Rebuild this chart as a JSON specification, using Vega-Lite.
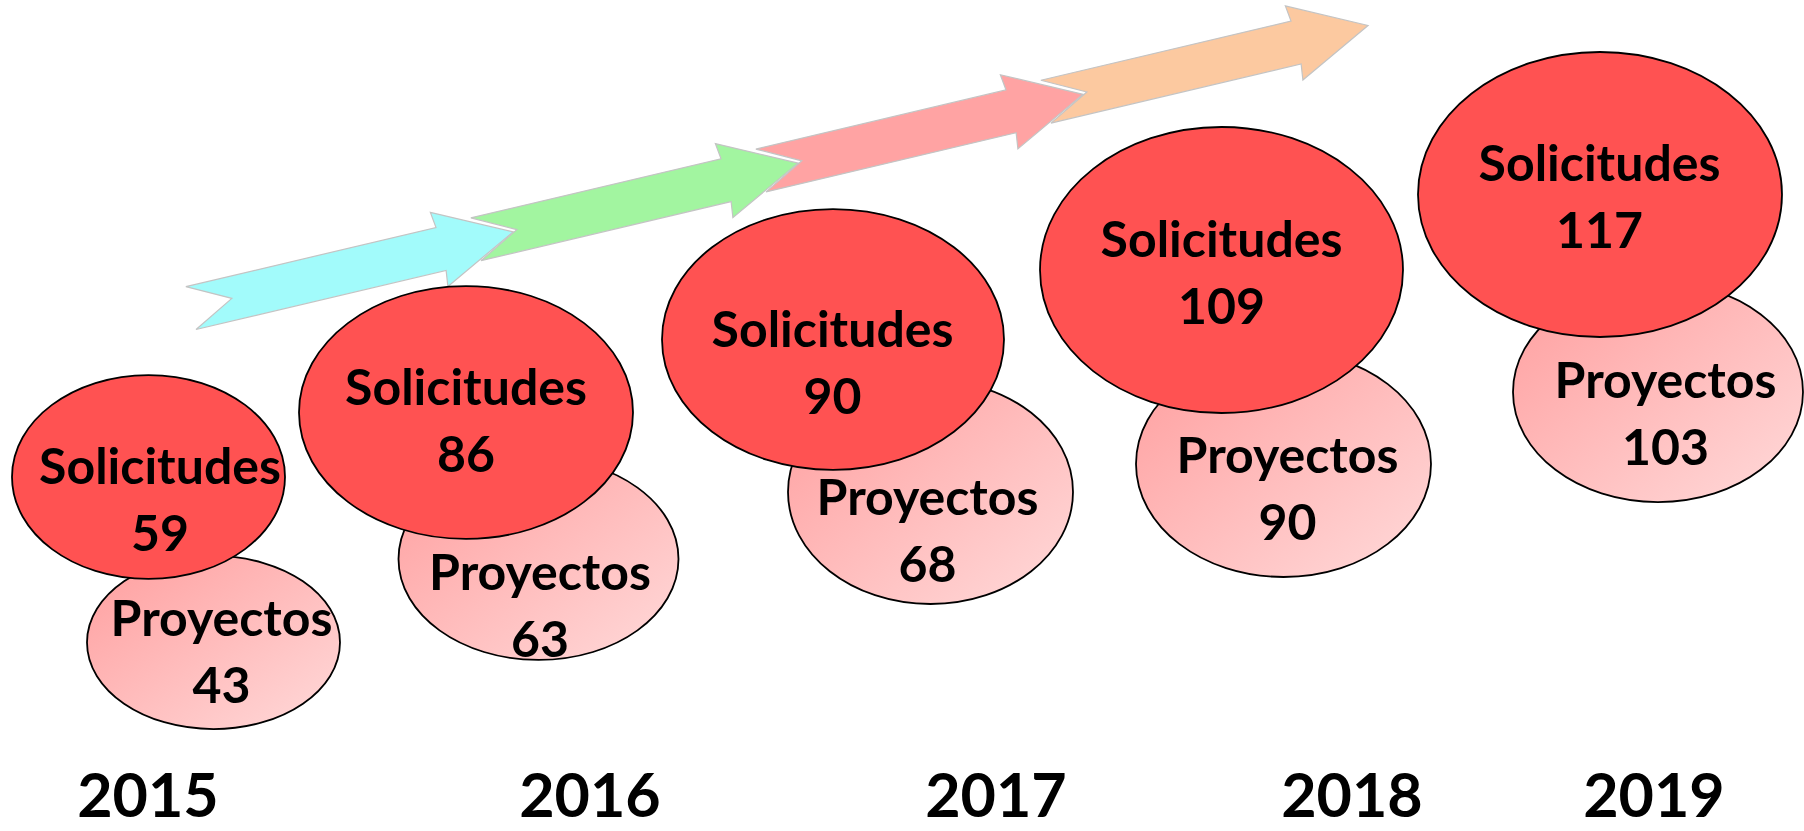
{
  "$schema": "https://vega.github.io/schema/vega-lite/v6.json",
  "width": 1804,
  "height": 831,
  "padding": 0,
  "autosize": "none",
  "background": "white",
  "config": {"view": {"stroke": null}},
  "datasets": {
    "counts": [
      {"year": 2015, "serie": "Solicitudes", "value": 59},
      {"year": 2016, "serie": "Solicitudes", "value": 86},
      {"year": 2017, "serie": "Solicitudes", "value": 90},
      {"year": 2018, "serie": "Solicitudes", "value": 109},
      {"year": 2019, "serie": "Solicitudes", "value": 117},
      {"year": 2015, "serie": "Proyectos", "value": 43},
      {"year": 2016, "serie": "Proyectos", "value": 63},
      {"year": 2017, "serie": "Proyectos", "value": 68},
      {"year": 2018, "serie": "Proyectos", "value": 90},
      {"year": 2019, "serie": "Proyectos", "value": 103}
    ],
    "arrows": [
      {"step": 1, "from": 2015, "to": 2016},
      {"step": 2, "from": 2016, "to": 2017},
      {"step": 3, "from": 2017, "to": 2018},
      {"step": 4, "from": 2018, "to": 2019}
    ]
  },
  "layer": [
    {
      "data": {"name": "arrows"},
      "mark": {
        "type": "point",
        "filled": true,
        "opacity": 1,
        "shape": "M-1,-0.133L0.553,-0.133L0.541,-0.23L1,0L0.541,0.23L0.553,0.133L-1,0.133L-0.746,0Z",
        "size": 109561,
        "angle": -13.3,
        "stroke": "#C4C4C4",
        "strokeWidth": 1.2
      },
      "encoding": {
        "x": {"field": "step", "type": "quantitative", "axis": null, "scale": {"domain": [1, 4], "range": [352, 1207], "zero": false, "nice": false}},
        "y": {"field": "step", "type": "quantitative", "axis": null, "scale": {"domain": [1, 4], "range": [270, 63.6], "zero": false, "nice": false}},
        "color": {"field": "step", "type": "nominal", "legend": null, "scale": {"domain": [1, 2, 3, 4], "range": ["#A2FBFB", "#A2F5A0", "#FFA3A3", "#FCC9A0"]}},
        "order": {"field": "step", "type": "quantitative", "sort": "descending"}
      }
    },
    {
      "data": {"name": "counts"},
      "transform": [{"filter": "datum.serie === 'Proyectos'"}],
      "mark": {
        "type": "point",
        "filled": true,
        "opacity": 1,
        "fill": {"gradient": "linear", "x1": 0, "y1": 0, "x2": 1, "y2": 1, "stops": [{"offset": 0, "color": "#FF9E9E"}, {"offset": 1, "color": "#FFDADA"}]},
        "stroke": "black",
        "strokeWidth": 1.8
      },
      "encoding": {
        "x": {"field": "year", "type": "quantitative", "axis": null, "scale": {"domain": [2015, 2016, 2017, 2018, 2019], "range": [213.5, 538.5, 930.5, 1283.5, 1658], "zero": false, "nice": false}},
        "y": {"field": "value", "type": "quantitative", "axis": null, "scale": {"domain": [43, 63, 68, 90, 103], "range": [642.5, 559, 492, 464, 392], "zero": false, "nice": false}},
        "size": {"field": "value", "type": "quantitative", "legend": null, "scale": {"domain": [43, 63, 68, 90, 103], "range": [64009, 78400, 81225, 87025, 84100], "zero": false, "nice": false}},
        "shape": {"field": "year", "type": "nominal", "legend": null, "scale": {"domain": [2015, 2016, 2017, 2018, 2019], "range": [
          "M-1,0C-1,-0.3778,-0.5523,-0.684,0,-0.684C0.5523,-0.684,1,-0.3778,1,0C1,0.3778,0.5523,0.684,0,0.684C-0.5523,0.684,-1,0.3778,-1,0Z",
          "M-1,0C-1,-0.3982,-0.5523,-0.721,0,-0.721C0.5523,-0.721,1,-0.3982,1,0C1,0.3982,0.5523,0.721,0,0.721C-0.5523,0.721,-1,0.3982,-1,0Z",
          "M-1,0C-1,-0.4341,-0.5523,-0.786,0,-0.786C0.5523,-0.786,1,-0.4341,1,0C1,0.4341,0.5523,0.786,0,0.786C-0.5523,0.786,-1,0.4341,-1,0Z",
          "M-1,0C-1,-0.4231,-0.5523,-0.766,0,-0.766C0.5523,-0.766,1,-0.4231,1,0C1,0.4231,0.5523,0.766,0,0.766C-0.5523,0.766,-1,0.4231,-1,0Z",
          "M-1,0C-1,-0.4192,-0.5523,-0.759,0,-0.759C0.5523,-0.759,1,-0.4192,1,0C1,0.4192,0.5523,0.759,0,0.759C-0.5523,0.759,-1,0.4192,-1,0Z"
        ]}}
      }
    },
    {
      "data": {"name": "counts"},
      "transform": [{"filter": "datum.serie === 'Proyectos'"}],
      "encoding": {
        "x": {"field": "year", "type": "quantitative", "axis": null, "scale": {"domain": [2015, 2016, 2017, 2018, 2019], "range": [221.5, 540, 927.5, 1287.5, 1665.5], "zero": false, "nice": false}},
        "y": {"field": "value", "type": "quantitative", "axis": null, "scale": {"domain": [43, 63, 68, 90, 103], "range": [636, 590, 515, 473, 398], "zero": false, "nice": false}}
      },
      "layer": [
        {
          "mark": {"type": "text", "font": "Lato", "fontWeight": "bold", "fontSize": 50, "color": "black", "align": "center", "baseline": "alphabetic"},
          "encoding": {"text": {"field": "serie", "type": "nominal"}}
        },
        {
          "mark": {"type": "text", "font": "Lato", "fontWeight": "bold", "fontSize": 50, "color": "black", "align": "center", "baseline": "alphabetic", "dy": 67},
          "encoding": {"text": {"field": "value", "type": "quantitative"}}
        }
      ]
    },
    {
      "data": {"name": "counts"},
      "transform": [{"filter": "datum.serie === 'Solicitudes'"}],
      "mark": {
        "type": "point",
        "filled": true,
        "opacity": 1,
        "fill": "#FF5252",
        "stroke": "black",
        "strokeWidth": 1.8
      },
      "encoding": {
        "x": {"field": "year", "type": "quantitative", "axis": null, "scale": {"domain": [2015, 2016, 2017, 2018, 2019], "range": [148.5, 466, 833, 1221.5, 1600], "zero": false, "nice": false}},
        "y": {"field": "value", "type": "quantitative", "axis": null, "scale": {"domain": [59, 86, 90, 109, 117], "range": [477, 412.5, 339.5, 270, 194.5], "zero": false, "nice": false}},
        "size": {"field": "value", "type": "quantitative", "legend": null, "scale": {"domain": [59, 86, 90, 109, 117], "range": [74529, 111556, 116964, 131769, 132496], "zero": false, "nice": false}},
        "shape": {"field": "year", "type": "nominal", "legend": null, "scale": {"domain": [2015, 2016, 2017, 2018, 2019], "range": [
          "M-1,0C-1,-0.4126,-0.5523,-0.747,0,-0.747C0.5523,-0.747,1,-0.4126,1,0C1,0.4126,0.5523,0.747,0,0.747C-0.5523,0.747,-1,0.4126,-1,0Z",
          "M-1,0C-1,-0.4181,-0.5523,-0.757,0,-0.757C0.5523,-0.757,1,-0.4181,1,0C1,0.4181,0.5523,0.757,0,0.757C-0.5523,0.757,-1,0.4181,-1,0Z",
          "M-1,0C-1,-0.4214,-0.5523,-0.763,0,-0.763C0.5523,-0.763,1,-0.4214,1,0C1,0.4214,0.5523,0.763,0,0.763C-0.5523,0.763,-1,0.4214,-1,0Z",
          "M-1,0C-1,-0.4352,-0.5523,-0.788,0,-0.788C0.5523,-0.788,1,-0.4352,1,0C1,0.4352,0.5523,0.788,0,0.788C-0.5523,0.788,-1,0.4352,-1,0Z",
          "M-1,0C-1,-0.4324,-0.5523,-0.783,0,-0.783C0.5523,-0.783,1,-0.4324,1,0C1,0.4324,0.5523,0.783,0,0.783C-0.5523,0.783,-1,0.4324,-1,0Z"
        ]}}
      }
    },
    {
      "data": {"name": "counts"},
      "transform": [{"filter": "datum.serie === 'Solicitudes'"}],
      "encoding": {
        "x": {"field": "year", "type": "quantitative", "axis": null, "scale": {"domain": [2015, 2016, 2017, 2018, 2019], "range": [160, 466, 832.5, 1221.5, 1599.5], "zero": false, "nice": false}},
        "y": {"field": "value", "type": "quantitative", "axis": null, "scale": {"domain": [59, 86, 90, 109, 117], "range": [484, 405, 347, 257, 181], "zero": false, "nice": false}}
      },
      "layer": [
        {
          "mark": {"type": "text", "font": "Lato", "fontWeight": "bold", "fontSize": 50, "color": "black", "align": "center", "baseline": "alphabetic"},
          "encoding": {"text": {"field": "serie", "type": "nominal"}}
        },
        {
          "mark": {"type": "text", "font": "Lato", "fontWeight": "bold", "fontSize": 50, "color": "black", "align": "center", "baseline": "alphabetic", "dy": 67},
          "encoding": {"text": {"field": "value", "type": "quantitative"}}
        }
      ]
    },
    {
      "data": {"name": "counts"},
      "transform": [{"filter": "datum.serie === 'Solicitudes'"}],
      "mark": {"type": "text", "font": "Lato", "fontWeight": "bold", "fontSize": 61, "color": "black", "align": "center", "baseline": "bottom", "dy": -1},
      "encoding": {
        "x": {"field": "year", "type": "quantitative", "axis": null, "scale": {"domain": [2015, 2016, 2017, 2018, 2019], "range": [148, 590, 996, 1352, 1654], "zero": false, "nice": false}},
        "y": {"value": "height"},
        "text": {"field": "year", "type": "nominal"}
      }
    }
  ],
  "resolve": {"scale": {"x": "independent", "y": "independent", "size": "independent", "shape": "independent", "color": "independent"}}
}
